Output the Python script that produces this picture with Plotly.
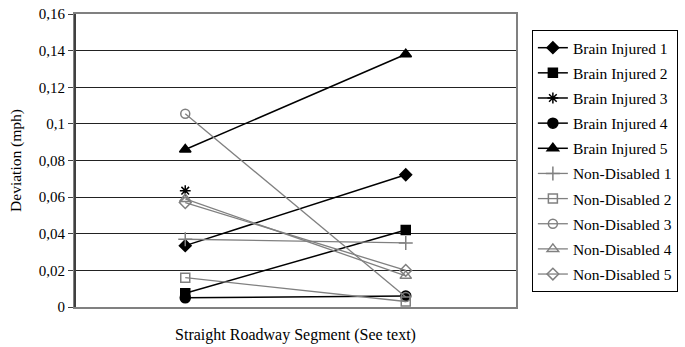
import plotly.graph_objects as go

categories = [1, 2]
series_names = ["Brain Injured 1", "Brain Injured 2", "Brain Injured 3", "Brain Injured 4", "Brain Injured 5",
                "Non-Disabled 1", "Non-Disabled 2", "Non-Disabled 3", "Non-Disabled 4", "Non-Disabled 5"]
bi1 = [0.0335, 0.0722]
bi2 = [0.0075, 0.042]
bi3 = [0.0635, None]
bi4 = [0.005, 0.006]
bi5 = [0.086, 0.138]
nd1 = [0.037, 0.035]
nd2 = [0.016, 0.003]
nd3 = [0.1055, 0.0055]
nd4 = [0.059, 0.017]
nd5 = [0.057, 0.020]
values = [bi1, bi2, bi3, bi4, bi5, nd1, nd2, nd3, nd4, nd5]
y_ticks = [0, 0.02, 0.04, 0.06, 0.08, 0.1, 0.12, 0.14, 0.16]

FONT = "Liberation Serif"
symbols = ["diamond", "square", "asterisk", "circle", "triangle-up",
           "cross-thin", "square-open", "circle-open", "triangle-up-open", "diamond-open"]
colors = ["black"] * 5 + ["#808080"] * 5
sizes = [9, 9, 9, 10, 10, 10, 9, 9, 10, 9]

fig = go.Figure()
for i, (name, vals) in enumerate(zip(series_names, values)):
    fig.add_trace(go.Scatter(
        x=categories, y=vals, name=name, mode="lines+markers",
        legendgroup=name,
        line=dict(color=colors[i], width=1.5 if i < 5 else 1.3),
        marker=dict(symbol=symbols[i], size=sizes[i], color=colors[i],
                    line=dict(color=colors[i], width=1.5)),
    ))

fig.update_layout(
    width=685, height=347,
    margin=dict(l=75, r=169, t=14, b=40, autoexpand=False),
    paper_bgcolor="white", plot_bgcolor="white",
    separators=",.",
    font=dict(family=FONT, size=15, color="black"),
    showlegend=True,
    legend=dict(
        x=1.036, xanchor="left", y=0.945, yanchor="top",
        bordercolor="black", borderwidth=1,
        font=dict(family=FONT, size=15.5, color="black"),
        tracegroupgap=2, itemwidth=30,
    ),
    xaxis=dict(
        range=[0.5, 2.5], showticklabels=False, showgrid=False, zeroline=False,
        showline=True, linecolor="#808080", linewidth=2, mirror=True, ticks="",
        title=dict(text="Straight Roadway Segment (See text)", standoff=21,
                   font=dict(family=FONT, size=16)),
    ),
    yaxis=dict(
        range=[0, 0.16], tickvals=y_ticks, showgrid=True, gridcolor="#222222", gridwidth=1,
        zeroline=False, showline=True, linecolor="#808080", linewidth=2, mirror=True,
        ticks="outside", ticklen=5, tickcolor="#404040",
        tickfont=dict(family=FONT, size=15),
        title=dict(text="Deviation (mph)", standoff=13,
                   font=dict(family=FONT, size=15.5)),
    ),
)
fig.add_shape(type="line", xref="paper", yref="paper", x0=0, x1=0, y0=0, y1=1,
              line=dict(color="#404040", width=2))

fig.write_html("out.html")
